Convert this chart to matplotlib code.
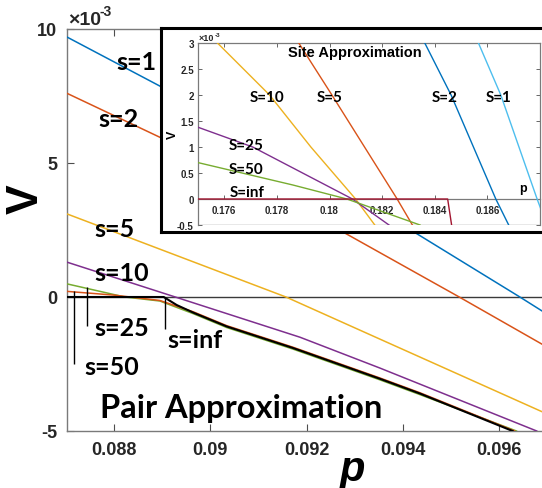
import matplotlib
matplotlib.use("Agg")
import matplotlib.pyplot as plt

# ---------------- data (V in units of 1e-3) ----------------
# Pair approximation (main plot)
pair_labels = ["s=1", "s=2", "s=5", "s=10", "s=25", "s=50", "s=inf"]
pair_colors = ["#0072BD", "#D95319", "#EDB120", "#7E2F8E", "#77AC30", "#D95319", "#000000"]
p_s1 = [0.08702, 0.08895, 0.09429, 0.09643, 0.09689]
v_s1 = [9.7, 7.87, 2.36, 0.0, -0.52]
p_s2 = [0.08702, 0.08895, 0.09275, 0.09517, 0.09689]
v_s2 = [7.6, 5.96, 2.43, 0.0, -1.76]
p_s5 = [0.08702, 0.09157, 0.09352, 0.09689]
v_s5 = [3.1, 0.0, -1.57, -4.28]
p_s10 = [0.08702, 0.08927, 0.09186, 0.09352, 0.09678]
v_s10 = [1.3, 0.0, -1.5, -2.65, -5.0]
p_s25 = [0.08702, 0.08822, 0.08895, 0.08964, 0.09034, 0.09171, 0.09352, 0.09435, 0.09636]
v_s25 = [0.49, 0.0, -0.15, -0.62, -1.14, -1.94, -3.09, -3.64, -5.0]
p_s50 = [0.08702, 0.08800, 0.08895, 0.08964, 0.09034, 0.09171, 0.09352, 0.09435, 0.09632]
v_s50 = [0.21, 0.07, -0.13, -0.55, -1.07, -1.87, -3.02, -3.57, -5.0]
p_sinf = [0.08702, 0.08903, 0.08930, 0.08964, 0.09034, 0.09171, 0.09352, 0.09435, 0.09628]
v_sinf = [0.0, 0.0, -0.30, -0.58, -1.10, -1.90, -3.05, -3.60, -5.0]

pair_xticks = [0.088, 0.090, 0.092, 0.094, 0.096]
pair_xticklabels = ["0.088", "0.09", "0.092", "0.094", "0.096"]
pair_yticks = [-5, 0, 5, 10]
pair_yticklabels = ["-5", "0", "5", "10"]

# label anchor positions (data coords)
pair_label_p = [0.08847, 0.08808, 0.08800, 0.08816, 0.08816, 0.08795, 0.08968]
pair_label_v = [8.79, 6.65, 2.54, 0.93, -1.12, -2.58, -1.57]
leader_p = [0.08717, 0.08744, 0.08906]
leader_hi = [0.22, 0.38, 0.0]
leader_lo = [-2.5, -1.08, -1.2]

# Site approximation (inset)
site_labels = ["S=1", "S=2", "S=5", "S=10", "S=25", "S=50", "S=inf"]
site_colors = ["#4DBEEE", "#0072BD", "#D95319", "#EDB120", "#7E2F8E", "#77AC30", "#A2142F"]
q_s1 = [0.18566, 0.18651, 0.18789, 0.18820]
w_s1 = [3.0, 2.0, 0.0, -0.42]
q_s2 = [0.18362, 0.18462, 0.18632, 0.18681]
w_s2 = [3.0, 2.0, 0.0, -0.5]
q_s5 = [0.17883, 0.18009, 0.18257, 0.18315]
w_s5 = [3.0, 2.0, 0.0, -0.5]
q_s10 = [0.17574, 0.17772, 0.17929, 0.18099, 0.18172]
w_s10 = [3.0, 2.0, 1.0, 0.0, -0.5]
q_s25 = [0.17500, 0.17708, 0.18087, 0.18226]
w_s25 = [1.38, 1.0, 0.0, -0.5]
q_s50 = [0.17500, 0.17860, 0.18066, 0.18344]
w_s50 = [0.70, 0.27, 0.0, -0.5]
q_sinf = [0.17500, 0.18449, 0.18464]
w_sinf = [0.0, 0.0, -0.5]

site_xticks = [0.176, 0.178, 0.180, 0.182, 0.184, 0.186]
site_xticklabels = ["0.176", "0.178", "0.18", "0.182", "0.184", "0.186"]
site_yticks = [-0.5, 0, 0.5, 1, 1.5, 2, 2.5, 3]
site_yticklabels = ["-0.5", "0", "0.5", "1", "1.5", "2", "2.5", "3"]
site_label_q = [0.18642, 0.18436, 0.18001, 0.17762, 0.17683, 0.17683, 0.17687]
site_label_w = [1.97, 1.97, 1.97, 1.97, 1.03, 0.58, 0.14]

# ---------------- figure ----------------
W, H = 542, 489
fig = plt.figure(figsize=(W / 100, H / 100), dpi=100)
fig.patch.set_facecolor("white")

def fx(px):
    return px / W

def fy(py):
    return 1 - py / H

axis_gray = "#4d4d4d"
tick_font = dict(family="Liberation Sans", weight="bold")
cal = ["Lato", "DejaVu Sans"]

# main axes
ax = fig.add_axes([fx(67), fy(432), fx(542) - fx(67), fy(30) - fy(432)])
pair_p = [p_s1, p_s2, p_s5, p_s10, p_s25, p_s50, p_sinf]
pair_v = [v_s1, v_s2, v_s5, v_s10, v_s25, v_s50, v_sinf]
ax.axhline(0, color="#3a3a3a", lw=1.0, zorder=1)
for pp, vv, c, lab in zip(pair_p, pair_v, pair_colors, pair_labels):
    lw = 1.5 if lab == "s=inf" else 1.1
    ax.plot(pp, vv, color=c, lw=lw, zorder=4 if lab == "s=inf" else 3)
ax.set_xlim(0.08702, 0.09689)
ax.set_ylim(-5, 10)
ax.set_xticks(pair_xticks)
ax.set_xticklabels(pair_xticklabels, fontsize=13, color="#262626", **tick_font)
ax.set_yticks(pair_yticks)
ax.set_yticklabels(pair_yticklabels, fontsize=13, color="#262626", **tick_font)
ax.tick_params(direction="in", length=5, width=0.8, color=axis_gray, top=True, right=False, pad=7)
for s in ["left", "bottom", "top"]:
    ax.spines[s].set_color("#7a7a7a")
    ax.spines[s].set_linewidth(1.0)
ax.spines["right"].set_visible(False)

for lab, lp, lv in zip(pair_labels, pair_label_p, pair_label_v):
    ax.text(lp, lv, lab, family=cal, weight="bold", fontsize=18, ha="center", va="center", zorder=5)
ax.vlines(leader_p, leader_lo, leader_hi, color="black", lw=1.0, zorder=4)
ax.text(0.09063, -4.11, "Pair Approximation", family=cal, weight="bold", fontsize=23.5,
        ha="center", va="center")

fig.text(fx(68), fy(25), "\u00d710", fontsize=14, color="#262626", ha="left", va="baseline", **tick_font)
fig.text(fx(100), fy(16), "-3", fontsize=10, color="#262626", ha="left", va="baseline", **tick_font)
fig.text(fx(26), fy(199), "V", fontsize=32, rotation=90, ha="center", va="center",
         family="Liberation Sans", weight="bold")
fig.text(fx(353), fy(470), "p", fontsize=30, ha="center", va="center",
         family="Liberation Sans", weight="bold", style="italic")

# inset frame
frame = fig.add_axes([fx(161), fy(233), fx(560) - fx(161), fy(29) - fy(233)])
frame.set_xticks([])
frame.set_yticks([])
frame.set_facecolor("white")
for s in frame.spines.values():
    s.set_color("black")
    s.set_linewidth(2.2)

# inset axes
ins = fig.add_axes([fx(198), fy(226), fx(540) - fx(198), fy(44) - fy(226)])
site_q = [q_s1, q_s2, q_s5, q_s10, q_s25, q_s50, q_sinf]
site_w = [w_s1, w_s2, w_s5, w_s10, w_s25, w_s50, w_sinf]
ins.axhline(-0.5, color="#8a8a8a", lw=1.0, zorder=1)
for qq, ww, c in zip(site_q, site_w, site_colors):
    ins.plot(qq, ww, color=c, lw=1.0, zorder=3)
ins.set_xlim(0.175, 0.188)
ins.set_ylim(-0.5, 3)
ins.spines["bottom"].set_position(("data", 0))
for s in ins.spines.values():
    s.set_color("#7a7a7a")
    s.set_linewidth(0.9)
ins.set_xticks(site_xticks)
ins.set_xticklabels(site_xticklabels, fontsize=7, color="#262626", **tick_font)
ins.set_yticks(site_yticks)
ins.set_yticklabels(site_yticklabels, fontsize=7, color="#262626", **tick_font)
ins.tick_params(direction="in", length=3, width=0.6, color=axis_gray, top=True, right=True, pad=3)
ins.tick_params(axis="x", pad=4)
for lab, lq, lw_ in zip(site_labels, site_label_q, site_label_w):
    ins.text(lq, lw_, lab, family=cal, weight="bold", fontsize=11, ha="center", va="center", zorder=5)
ins.text(0.18096, 2.83, "Site Approximation", fontsize=10.5, ha="center", va="center",
         family="Liberation Sans", weight="bold", zorder=5)
ins.text(0.18737, 0.21, "p", fontsize=9, ha="center", va="center",
         family="Liberation Sans", weight="bold")
fig.text(fx(173), fy(135), "V", fontsize=9, rotation=90, ha="center", va="center",
         family="Liberation Sans", weight="bold")
fig.text(fx(199), fy(41), "\u00d710", fontsize=6.5, color="#262626", ha="left", va="baseline", **tick_font)
fig.text(fx(215), fy(37), "-3", fontsize=4.5, color="#262626", ha="left", va="baseline", **tick_font)

fig.savefig("out.png", dpi=100)
